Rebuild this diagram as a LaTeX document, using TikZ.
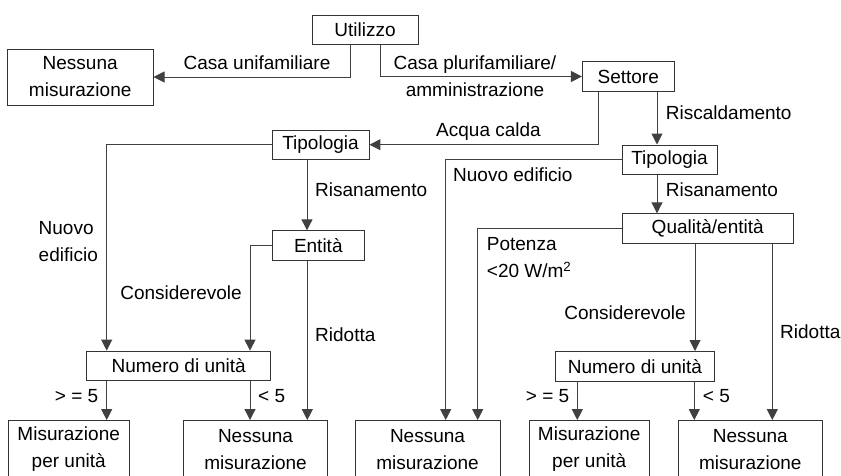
\documentclass[tikz,border=0pt]{standalone}
\usepackage{fontspec}
\setmainfont{Liberation Sans}
\usepackage{tikz}
\usetikzlibrary{positioning, arrows.meta}
\tikzset{
  qbox/.style    = {draw=black!80, line width=0.9pt, inner sep=0pt,
                    minimum height=29.5pt, align=center},
  endbox/.style  = {draw=black!80, line width=0.9pt, inner sep=0pt,
                    minimum height=58pt, align=center},
  lbl/.style     = {inner sep=0pt, align=left},
  flow/.style    = {draw=black!75, line width=1pt,
                    -{Triangle[length=11pt, width=11pt]}}
}

\begin{document}
\begin{tikzpicture}[x=1pt, y=-1pt, font=\fontsize{19}{27}\selectfont]
  \useasboundingbox (0,0) rectangle (841,475);
  \clip (0,0) rectangle (841,475);

  % Decision boxes
  \node[qbox, minimum width=106pt]   (util) at (365,29.7)   {Utilizzo};
  \node[qbox, minimum width=145.7pt, minimum height=56pt]
                                     (nes0) at (80.2,77)    {Nessuna\\misurazione};
  \node[qbox, minimum width=91.7pt]  (sett) at (628.2,76.5) {Settore};
  \node[qbox, minimum width=97pt]    (tipa) at (320.5,144.7) {Tipologia};
  \node[qbox, minimum width=95pt]    (tipb) at (669.5,159.7) {Tipologia};
  \node[qbox, minimum width=171.3pt] (qual) at (707.7,228.5) {Qualità/entità};
  \node[qbox, minimum width=92pt]    (ent)  at (318.3,245.5) {Entità};
  \node[qbox, minimum width=184pt]   (numa) at (178.7,365.8) {Numero di unità};
  \node[qbox, minimum width=158.6pt] (numb) at (635,366.2)   {Numero di unità};

  % Result boxes (bottom row, cut by the page)
  \node[endbox, minimum width=120.7pt] (misa) at (68.7,449.5)  {Misurazione\\per unità};
  \node[endbox, minimum width=144.4pt] (nesa) at (255.5,449.5) {Nessuna\\misurazione};
  \node[endbox, minimum width=145pt]   (nesb) at (427.5,449.5) {Nessuna\\misurazione};
  \node[endbox, minimum width=120.3pt] (misb) at (589.2,449.5) {Misurazione\\per unità};
  \node[endbox, minimum width=144pt]   (nesc) at (750.3,449.5) {Nessuna\\misurazione};

  % Utilizzo
  \draw[flow] ([xshift=-15pt]util.south) |- (nes0.east);
  \node[lbl, anchor=base] (lunif) at (257,69) {Casa unifamiliare};
  \draw[flow] ([xshift=15.7pt]util.south) |- (sett.west);
  \node[lbl, align=center] (lpluri) at (475,76) {Casa plurifamiliare/\\amministrazione};

  % Settore
  \draw[flow] ([xshift=-30pt]sett.south) |- (tipa.east);
  \node[lbl, anchor=base] (lacqua) at (488.5,136.7) {Acqua calda};
  \draw[flow] ([xshift=-12.5pt]tipb.north |- sett.south) -- ([xshift=-12.5pt]tipb.north);
  \node[lbl, anchor=west] (lrisc) at (665.7,113) {Riscaldamento};

  % Tipologia (riscaldamento)
  \draw[flow] (tipb.west) -| ([xshift=18.2pt]nesb.north);
  \node[lbl, anchor=west] (lnuovb) at (453,175) {Nuovo edificio};
  \draw[flow] ([xshift=-12.5pt]tipb.south) -- ([xshift=-12.5pt]tipb.south |- qual.north);
  \node[lbl, anchor=west] (lrisb) at (665.7,190) {Risanamento};

  % Qualita/entita
  \draw[flow] (qual.west) -| ([xshift=50.2pt]nesb.north);
  \node[lbl, anchor=west] (lpot) at (486.7,258) {Potenza\\<20 W/m\textsuperscript{2}};
  \draw[flow] ([xshift=-12.7pt]qual.south) -- ([xshift=-12.7pt]qual.south |- numb.north);
  \node[lbl, anchor=east] (lconb) at (686,313) {Considerevole};
  \draw[flow] ([xshift=64.6pt]qual.south) -- ([xshift=64.6pt]qual.south |- nesc.north);
  \node[lbl, anchor=west] (lridb) at (780,332) {Ridotta};

  % Numero di unita (destra)
  \draw[flow] ([xshift=-57.7pt]numb.south) -- ([xshift=-57.7pt]numb.south |- misb.north);
  \node[lbl, anchor=east] (lgeb) at (569.5,396) {> = 5};
  \draw[flow] ([xshift=59.3pt]numb.south) -- ([xshift=59.3pt]numb.south |- nesc.north);
  \node[lbl, anchor=west] (lltb) at (702.7,396) {< 5};

  % Tipologia (acqua calda)
  \draw[flow] (tipa.west) -| ([xshift=-72pt]numa.north);
  \node[lbl, anchor=west] (lnuova) at (38.5,241.5) {Nuovo\\edificio};
  \draw[flow] ([xshift=-13.5pt]tipa.south) -- ([xshift=-13.5pt]tipa.south |- ent.north);
  \node[lbl, anchor=west] (lrisa) at (315,190) {Risanamento};

  % Entita
  \draw[flow] (ent.west) -| ([xshift=71.3pt]numa.north);
  \node[lbl, anchor=east] (lcona) at (242,292.5) {Considerevole};
  \draw[flow] ([xshift=-11pt]ent.south) -- ([xshift=-11pt]ent.south |- nesa.north);
  \node[lbl, anchor=west] (lrida) at (315,335) {Ridotta};

  % Numero di unita (sinistra)
  \draw[flow] ([xshift=-72pt]numa.south) -- ([xshift=-72pt]numa.south |- misa.north);
  \node[lbl, anchor=east] (lgea) at (98.5,396) {> = 5};
  \draw[flow] ([xshift=71.3pt]numa.south) -- ([xshift=71.3pt]numa.south |- nesa.north);
  \node[lbl, anchor=west] (llta) at (258,396) {< 5};
\end{tikzpicture}
\end{document}
